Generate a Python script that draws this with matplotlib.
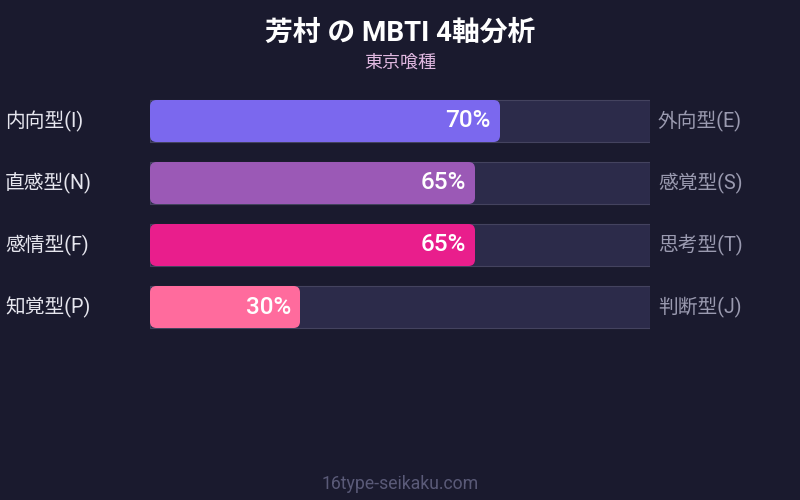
import matplotlib
matplotlib.use("Agg")
import matplotlib.pyplot as plt
from matplotlib.patches import FancyBboxPatch

plt.rcParams['font.family'] = ['Roboto', 'Noto Sans CJK JP', 'DejaVu Sans']

# data
title = "芳村 の MBTI 4軸分析"
subtitle = "東京喰種"
left_labels = ["内向型(I)", "直感型(N)", "感情型(F)", "知覚型(P)"]
right_labels = ["外向型(E)", "感覚型(S)", "思考型(T)", "判断型(J)"]
percents = [70, 65, 65, 30]
bar_colors = ["#7B68EE", "#9B59B6", "#E91E8C", "#FF6B9D"]
footer = "16type-seikaku.com"

bg = "#1a1a2e"
track_color = "#2c2b4a"
track_edge = "#44435f"

fig = plt.figure(figsize=(8, 5), dpi=100, facecolor=bg)

# axes covering the track region: x in percent, y in rows
ax = fig.add_axes([150 / 800, 162 / 500, 500 / 800, 248 / 500])
ax.set_facecolor(bg)
ax.set_xlim(0, 100)
ax.set_ylim(3.5, -0.5)
ax.axis("off")

h = 42 / 62
# aspect factor so corner radius is round in pixels
aspect = (1 / 62) / (1 / 5)
for i, (val, col) in enumerate(zip(percents, bar_colors)):
    ax.barh(i, 100, height=h, color=track_color, edgecolor=track_edge, linewidth=0.8)
    ax.add_patch(FancyBboxPatch((0, i - h / 2), val, h,
                                boxstyle="round,pad=0,rounding_size=1.3",
                                mutation_aspect=aspect,
                                facecolor=col, edgecolor="none"))
    ax.text(val - 1.8, i, f"{val}%", ha="right", va="center",
            fontsize=17.5, fontweight="medium", color="white")
    ax.text(-29, i, left_labels[i], ha="left", va="center",
            fontsize=14.2, color="#e6e6ee", clip_on=False)
    ax.text(101.6, i, right_labels[i], ha="left", va="center",
            fontsize=14.2, color="#9a9ab0", clip_on=False)

fig.text(0.5, 1 - 33 / 500, title, ha="center", va="center",
         fontsize=20, fontweight="bold", color="white")
fig.text(0.5, 1 - 63 / 500, subtitle, ha="center", va="center",
         fontsize=13, color="#e0b8e0")
fig.text(0.5, 1 - 484 / 500, footer, ha="center", va="center",
         fontsize=12.7, color="#5a5a78")

fig.savefig("out.png", dpi=100, facecolor=bg)
